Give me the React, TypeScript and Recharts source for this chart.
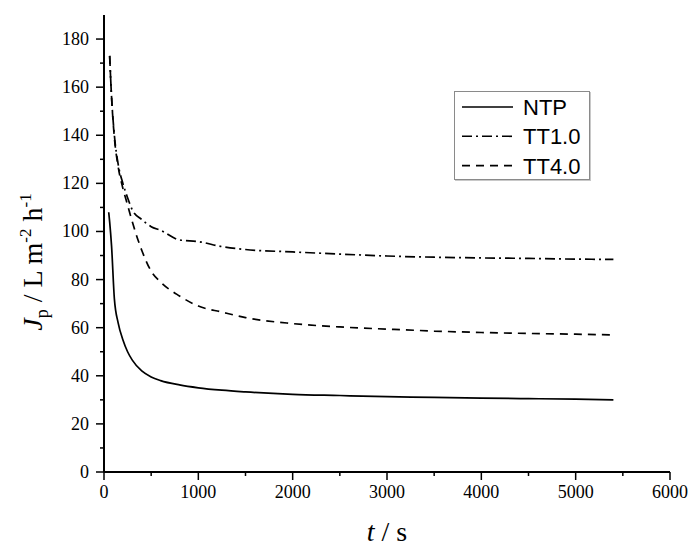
import React from "react";
import { LineChart, Line, XAxis, YAxis, Legend } from "recharts";

// time (s) and permeate flux J_p (L m-2 h-1)
const TIME = [50, 60, 80, 110, 150, 200, 250, 300, 400, 500, 600, 800, 1000, 1250, 1500, 2000, 2500, 3000, 3500, 4000, 4500, 5000, 5400];
const NTP = [108, 104, 94, 72, 62, 55, 50, 46.5, 42, 39.5, 38, 36.2, 35, 34, 33.3, 32.3, 31.8, 31.3, 31, 30.7, 30.5, 30.3, 30];
const TT10 = [null, 173, 156, 140, 128, 120, 114, 109, 105, 102, 100.5, 96.5, 95.8, 93.7, 92.5, 91.5, 90.6, 89.8, 89.3, 89, 88.8, 88.5, 88.4];
const TT40 = [null, 173, 156, 139, 127, 118, 111, 104, 92.2, 83.5, 79, 73.2, 69, 66.5, 64.2, 61.7, 60.3, 59.4, 58.6, 58, 57.6, 57.3, 57];

const X_TICKS = [0, 500, 1000, 1500, 2000, 2500, 3000, 3500, 4000, 4500, 5000, 5500, 6000];
const Y_TICKS = [0, 10, 20, 30, 40, 50, 60, 70, 80, 90, 100, 110, 120, 130, 140, 150, 160, 170, 180];

const SERIES = [
  { key: "NTP", name: "NTP", dash: undefined as string | undefined },
  { key: "TT10", name: "TT1.0", dash: "10 4 2 4" },
  { key: "TT40", name: "TT4.0", dash: "8 6" },
];

const data = TIME.map((t, i) => ({ t, NTP: NTP[i], TT10: TT10[i], TT40: TT40[i] }));

const SERIF = "Liberation Serif, Times New Roman, serif";
const SANS = "Liberation Sans, Arial, sans-serif";

const XTick = (props: any) => {
  const { x, y, payload } = props;
  const major = payload.value % 1000 === 0;
  return (
    <g>
      <line x1={x} x2={x} y1={y} y2={y + (major ? 8 : 4)} stroke="#000" strokeWidth={1.5} />
      {major && (
        <text x={x} y={y + 26} textAnchor="middle" style={{ fontFamily: SERIF, fontSize: 18 }} fill="#000">
          {payload.value}
        </text>
      )}
    </g>
  );
};

const YTick = (props: any) => {
  const { x, y, payload } = props;
  const major = payload.value % 20 === 0;
  return (
    <g>
      <line x1={x} x2={x - (major ? 8 : 4)} y1={y} y2={y} stroke="#000" strokeWidth={1.5} />
      {major && (
        <text x={x - 15} y={y + 6} textAnchor="end" style={{ fontFamily: SERIF, fontSize: 18 }} fill="#000">
          {payload.value}
        </text>
      )}
    </g>
  );
};

const YLabel = () => (
  <text
    x={42}
    y={262}
    transform="rotate(-90, 42, 262)"
    textAnchor="middle"
    style={{ fontFamily: SERIF, fontSize: 28 }}
    fill="#000"
  >
    <tspan fontStyle="italic">J</tspan>
    <tspan dy={6} fontSize={18}>p</tspan>
    <tspan dy={-6}> / L m</tspan>
    <tspan dy={-11} fontSize={17}>-2</tspan>
    <tspan dy={11}> h</tspan>
    <tspan dy={-11} fontSize={17}>-1</tspan>
  </text>
);

const XLabel = () => (
  <text x={387} y={541} textAnchor="middle" style={{ fontFamily: SERIF, fontSize: 28 }} fill="#000">
    <tspan fontStyle="italic">t</tspan>
    <tspan> / s</tspan>
  </text>
);

const LegendBox = () => (
  <div
    style={{
      width: 136,
      height: 89,
      boxSizing: "border-box",
      border: "1px solid #8a8a8a",
      boxShadow: "1px 1px 0 #c8c8c8",
      background: "#fff",
    }}
  >
    <svg width={134} height={87} style={{ display: "block" }}>
      {SERIES.map((s, i) => {
        const cy = 15 + i * 29.3;
        return (
          <g key={s.key}>
            <line x1={7} x2={58} y1={cy} y2={cy} stroke="#000" strokeWidth={1.6} strokeDasharray={s.dash} />
            <text x={68} y={cy + 8} style={{ fontFamily: SANS, fontSize: 22 }} fill="#000">
              {s.name}
            </text>
          </g>
        );
      })}
    </svg>
  </div>
);

export default function App() {
  return (
    <div style={{ position: "absolute", left: 0, top: 0, width: 692, height: 549, background: "#fff" }}>
      <LineChart width={692} height={549} data={data} margin={{ top: 15, right: 22, bottom: 47, left: 0 }}>
        <XAxis
          dataKey="t"
          type="number"
          domain={[0, 6000]}
          ticks={X_TICKS}
          interval={0}
          height={30}
          tickSize={0}
          tickMargin={0}
          tickLine={false}
          tick={<XTick />}
          axisLine={{ stroke: "#000", strokeWidth: 2 }}
          label={{ content: <XLabel /> }}
        />
        <YAxis
          type="number"
          width={104}
          domain={[0, 190]}
          ticks={Y_TICKS}
          interval={0}
          tickSize={0}
          tickMargin={0}
          tickLine={false}
          tick={<YTick />}
          axisLine={{ stroke: "#000", strokeWidth: 2 }}
          label={{ content: <YLabel /> }}
        />
        <Legend
          layout="vertical"
          align="center"
          verticalAlign="middle"
          content={<LegendBox />}
          wrapperStyle={{ left: 454, top: 91, width: 136, height: 89 }}
        />
        {SERIES.map((s) => (
          <Line
            key={s.key}
            dataKey={s.key}
            name={s.name}
            type="monotone"
            stroke="#000"
            strokeWidth={1.7}
            strokeDasharray={s.dash}
            dot={false}
            connectNulls
            isAnimationActive={false}
          />
        ))}
      </LineChart>
    </div>
  );
}
